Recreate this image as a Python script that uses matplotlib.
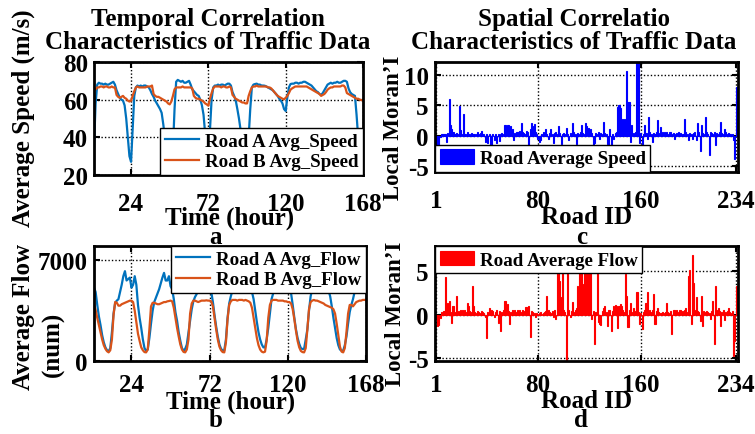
import matplotlib.pyplot as plt
import numpy as np

plt.rcParams['font.family'] = ['Liberation Serif', 'DejaVu Serif']
plt.rcParams['font.weight'] = 'bold'
plt.rcParams['axes.unicode_minus'] = False

# ---- data: hourly values over one week (7 rows of 24 hours) ----
hours = np.arange(1, 169)

speed_a = [
    35, 58, 68, 69, 68.5, 68.5, 68, 68.5, 68, 68, 68.5, 69, 69.5, 68, 65, 63, 61, 60, 59.5, 57, 50, 40, 30, 27,
    45, 62, 66.5, 67.5, 67, 67.5, 67, 67.5, 67.5, 67, 66.5, 65, 63, 61.5, 59.5, 58, 56.5, 55, 53, 47, 40, 34, 31, 30,
    30, 34, 55, 69.5, 70.5, 70, 69.5, 70, 69, 69, 69.5, 70, 68, 65.5, 64.5, 63.5, 62.5, 62, 60, 57, 52, 42, 36, 34,
    44, 60, 66.5, 67.5, 67.5, 68, 67.5, 68, 68, 67.5, 68, 68.5, 68.5, 67.5, 64, 62, 59.5, 55, 50, 44, 38, 34, 32, 33,
    40, 55, 66.5, 68, 68.3, 68.5, 68, 68, 67.5, 67.5, 67.4, 67, 66.5, 66, 65.5, 65, 64, 63, 62, 60.5, 59.5, 58, 55, 54,
    61, 66.5, 68.3, 68.5, 68.5, 69, 69, 68.5, 69, 69, 69.5, 69.5, 69, 68.5, 68, 67.5, 66.5, 65.5, 64.5, 64, 63, 62.5, 63.5, 65,
    66.5, 68, 68.5, 69, 68.5, 69, 69, 69.5, 69, 69, 69.5, 70, 70, 69.5, 66, 64, 63, 62.5, 62, 52, 40, 34, 31, 30,
]
speed_b = [
    65, 65.5, 66.5, 66.5, 67, 67, 66.5, 67, 67, 66.5, 66.5, 67, 66.5, 66.5, 62.5, 61.5, 61, 61.5, 62, 61, 60.5, 59.5, 59, 59.5,
    62, 64.5, 66.5, 67, 66.5, 66.5, 66.5, 66.5, 66.5, 67, 67, 67, 67.5, 63, 62, 61.5, 61.5, 61, 60.5, 60, 59.5, 59, 58, 57.5,
    59, 62, 65.5, 66.5, 66.5, 66.5, 66.5, 67, 66.5, 66.5, 66.5, 66.5, 66.5, 66, 62, 61, 60.5, 60.5, 60, 59.5, 59, 58, 57.5, 56.8,
    60.5, 63.5, 66, 67, 67, 67, 67, 66.5, 67, 67, 66.5, 66.5, 67, 66.5, 62.5, 61.5, 60.5, 60, 59.5, 59, 58.5, 58.5, 58, 58,
    62, 64.5, 66.5, 67, 67, 67.5, 67, 67, 67, 67, 67, 67, 66.5, 66.5, 66, 65, 64, 63, 62, 61.5, 61, 60.5, 60.2, 61,
    62, 63.5, 65.3, 66, 66.5, 67, 67, 67, 67, 67, 67, 67, 67, 66.5, 66, 65.5, 65, 64.5, 64, 63.5, 63, 62, 62.5, 63,
    64, 65.3, 66, 66.5, 66.5, 67, 67, 67, 67, 67, 67.5, 67.5, 66.5, 63.5, 63, 62.5, 62, 61.5, 61, 60.5, 60.5, 60, 59.8, 59.5,
]
flow_a = [
    5100, 4800, 3900, 3100, 2500, 1800, 1300, 950, 750, 680, 900, 2000, 3300, 4050, 4200, 4300, 4800, 5300, 5900, 6250, 5600, 5700, 5800, 5100,
    5300, 5900, 5300, 3900, 3000, 2300, 1500, 900, 710, 800, 1600, 2600, 3500, 4100, 4400, 4700, 5000, 5400, 5800, 6130, 5600, 5600, 5900, 5200,
    5000, 4300, 3400, 2800, 2000, 1400, 900, 710, 850, 1150, 2000, 2800, 3600, 4150, 4450, 4650, 5000, 5400, 5800, 6000, 5600, 5500, 5700, 5200,
    4800, 4100, 3200, 2400, 1700, 1150, 850, 720, 750, 1500, 3000, 4000, 4500, 4900, 5300, 5700, 6000, 5700, 5600, 5800, 6000, 5600, 5300, 5200,
    5000, 4800, 4300, 3500, 2700, 2000, 1500, 1150, 950, 940, 1500, 2300, 3300, 4300, 4700, 5100, 5500, 5900, 6100, 5800, 5700, 5900, 5700, 5300,
    5000, 4700, 3900, 3000, 2200, 1600, 1200, 900, 830, 850, 1500, 2200, 3500, 4500, 5000, 5300, 5600, 5900, 6000, 5700, 5600, 5500, 5300, 5100,
    4900, 4500, 3800, 3000, 2300, 1600, 1100, 800, 720, 720, 1100, 1700, 2600, 3400, 3900, 4300, 4800, 5300, 5600, 5800, 6000, 5700, 5500, 5400,
]
flow_b = [
    3950, 3550, 3000, 2500, 2000, 1500, 1100, 850, 680, 600, 750, 1500, 3200, 4100, 4050, 3850, 3850, 3950, 4000, 4050, 4100, 4150, 4200, 4200,
    4100, 3500, 2700, 1900, 1400, 950, 750, 620, 600, 800, 2200, 3800, 4050, 4050, 4000, 3950, 3950, 4000, 4050, 4100, 4100, 4150, 4170, 4200,
    4150, 3700, 3000, 2300, 1700, 1150, 800, 630, 600, 800, 1500, 3300, 4000, 4200, 4200, 4150, 4100, 4150, 4200, 4200, 4200, 4220, 4200, 4200,
    4150, 3800, 3000, 2200, 1500, 1000, 750, 620, 600, 1300, 2900, 3900, 4150, 4250, 4250, 4250, 4200, 4250, 4250, 4250, 4200, 4250, 4200, 4150,
    4050, 3700, 3000, 2300, 1600, 1100, 800, 650, 600, 650, 1400, 3000, 3900, 4200, 4250, 4250, 4250, 4200, 4200, 4200, 4200, 4150, 4150, 4100,
    4100, 4000, 3600, 2900, 2100, 1400, 950, 700, 620, 600, 900, 2200, 3600, 4100, 4200, 4250, 4200, 4200, 4150, 4100, 4050, 4000, 3900, 3850,
    3800, 3750, 3700, 3600, 3300, 2600, 1800, 1000, 650, 600, 900, 2000, 3300, 3900, 3900, 3800, 3950, 4100, 4150, 4200, 4200, 4250, 4250, 4250,
]

# ---- local Moran's I per road (234 roads, rows of 10) ----
road_ids = np.arange(1, 235)

moran_speed = [
    -1.5, -1.8, -1.6, -0.3, 0.2, 0.3, 0.2, 0.3, -1.0, 0.4,
    6.0, 1.7, 1.0, 0.5, 0.3, 0.2, 0.4, 0.3, 4.9, 0.9,
    0.3, 3.6, 0.2, 0.3, 0.5, 0.3, 0.2, 0.4, 0.3, 0.2,
    0.3, 0.2, 0.5, 0.3, 0.4, 0.8, 0.2, 0.3, -1.0, 0.3,
    -1.2, 0.2, -1.5, -1.6, 0.3, -0.8, 0.2, -1.2, 0.3, -0.9,
    0.3, 0.4, 0.3, 1.8, 1.8, 1.7, 1.8, 1.2, 1.5, 1.0,
    -0.8, 0.4, 0.5, 0.6, 0.5, 0.7, 2.1, 0.5, 0.4, 0.3,
    0.8, 0.5, -1.7, 1.0, 2.0, 1.6, 1.9, 0.5, 0.3, -0.5,
    -1.0, -0.8, 0.3, 0.5, 0.4, 1.0, 0.3, -0.5, 0.4, 1.1,
    0.3, -1.2, 0.4, 0.5, 0.3, 1.6, 0.4, -1.4, 0.3, 0.4,
    0.2, 1.2, 0.3, -0.7, 0.4, 0.3, 2.1, 0.5, 0.3, -1.4,
    0.4, 0.3, 0.5, 1.8, 0.4, 0.3, 2.1, 1.6, 1.2, 0.5,
    1.0, 0.4, -1.7, -1.3, 0.4, 0.3, 0.5, -0.6, 0.4, 0.3,
    2.2, 0.4, 0.3, -1.4, -1.8, 1.0, -1.5, 0.2, -0.5, 0.4,
    0.5, 4.7, 5.0, 4.5, 0.6, 2.8, 2.8, 1.0, 10.7, 5.5,
    5.5, -1.0, 1.7, 0.4, 0.3, 0.5, 14.0, 13.0, -1.2, 0.4,
    -1.5, 0.3, 1.7, 0.4, -0.6, 3.1, 0.5, 0.3, -1.1, 0.4,
    0.3, 0.5, 2.5, 0.4, 1.4, 0.3, 0.5, 0.6, 0.4, 0.5,
    0.3, 0.6, 0.5, 0.3, 0.4, -0.6, 0.3, 0.4, 0.5, 0.3,
    0.4, 0.3, 0.2, 2.7, 0.5, 0.3, -0.8, 0.4, 0.3, -0.5,
    0.4, 0.6, -0.8, 2.0, 0.5, -2.5, 1.7, 0.4, 0.3, 3.1,
    0.5, 0.3, -3.2, 0.6, 0.4, 0.3, 0.5, -1.6, 0.4, 0.3,
    0.5, 2.2, 0.4, 0.3, 1.1, 0.5, 0.3, 0.4, 0.3, 0.2,
    0.3, -0.8, -3.8, 8.0,
]
moran_flow = [
    -0.5, -1.3, -1.2, -0.4, 0.3, 0.2, 0.4, 4.3, 0.5, 1.4,
    1.6, 0.3, -0.9, 1.0, 0.3, 0.2, 2.2, 0.4, 0.3, 0.5,
    0.5, 0.4, 0.6, 0.3, 1.4, 1.0, 0.4, 0.3, 3.3, 1.0,
    0.3, 0.2, 0.4, 0.3, 0.2, 0.4, 0.3, 0.2, -0.3, -2.7,
    0.3, 0.8, 0.3, 0.6, 0.4, -0.3, 0.3, 0.5, -0.9, 0.4,
    -1.9, 0.3, 0.5, 1.6, 1.6, 1.2, 0.4, -1.1, 0.3, 0.5,
    0.4, 0.6, 0.3, 0.5, 0.4, 0.6, 0.3, 0.5, 0.4, 0.9,
    0.9, 0.5, 1.0, -2.6, 0.4, 0.3, 0.2, -0.3, 0.2, 0.1,
    0.2, 0.3, 0.1, 0.2, 0.3, 0.4, 2.2, 0.5, 0.3, 0.2,
    0.4, -0.3, 0.5, -0.5, 5.1, 5.1, 3.9, 2.0, 5.1, 0.6,
    0.3, -5.2, 5.1, 0.5, -0.3, 0.4, 1.5, 0.3, 0.5, 0.8,
    3.3, 5.1, 5.1, 5.1, 3.5, 5.1, 5.1, 5.1, 5.1, 5.1,
    5.1, -0.5, 0.4, -3.4, 0.3, 5.1, -0.8, -1.0, -1.2, 0.4,
    0.8, 1.0, 0.3, -1.3, 0.6, 0.5, -1.8, 0.4, 1.0, 1.1,
    1.0, -1.5, 1.0, 1.2, 1.0, 0.5, 0.3, 4.7, 2.2, -1.4,
    0.5, 1.4, 0.3, 0.8, 0.4, 0.3, 2.6, 0.3, -1.1, 0.2,
    -1.6, 0.3, 0.5, 1.4, 2.6, 0.4, 0.6, 0.3, 0.5, 2.4,
    -1.1, 0.4, 0.8, 0.3, 0.2, 0.2, 0.3, 0.2, 0.3, 1.4,
    0.3, 0.2, 0.4, -2.2, 0.5, 0.6, 0.4, 0.5, 0.3, 0.5,
    0.6, 0.4, 0.3, 0.5, 0.8, 0.3, 4.5, 5.1, -1.1, 6.9,
    3.7, 0.5, 2.0, 0.4, 0.3, -0.7, 2.2, -1.3, 0.4, 0.3,
    0.4, 0.3, 0.2, -0.5, 0.4, 1.6, -3.4, 3.3, 0.5, 0.8,
    0.4, -1.3, 0.3, 0.5, -0.6, 0.3, 0.4, 0.8, 0.3, 0.2,
    0.4, -4.7, -3.0, 3.3,
]

W, H = 755, 435
fig = plt.figure(figsize=(W / 100, H / 100), dpi=100)


def box(l, t, r, b):
    # pixel box -> figure fraction
    return [l / W, 1 - b / H, (r - l) / W, (b - t) / H]


def px(x, y):
    return x / W, 1 - y / H


def style(ax, xpad):
    for s in ax.spines.values():
        s.set_linewidth(2)
    ax.tick_params(direction='in', length=4, width=1.5, top=True, right=True,
                   labelsize=18)
    ax.tick_params(axis='x', pad=xpad)
    ax.tick_params(axis='y', pad=4.5)
    ax.grid(True, color='black', linestyle=(0, (1, 1.5)), linewidth=1)
    ax.set_axisbelow(True)


leg_kw = dict(fontsize=13.7, fancybox=False, framealpha=1, edgecolor='black',
              handlelength=1.8, handletextpad=0.3, borderpad=0.25,
              labelspacing=0.15, borderaxespad=0)

blue_line = '#0072BD'
orange_line = '#D95319'

# a: speed over time
ax1 = fig.add_axes(box(94, 63, 363, 176))
ax1.plot(hours, speed_a, color=blue_line, lw=1.6, label='Road A Avg_Speed')
ax1.plot(hours, speed_b, color=orange_line, lw=1.6, label='Road B Avg_Speed')
ax1.set_xlim(1, 168)
ax1.set_ylim(20, 80)
ax1.set_xticks([24, 72, 120, 168])
ax1.set_yticks([20, 40, 60, 80])
style(ax1, 12.5)
ax1.legend(loc='lower right', bbox_to_anchor=(1, 0), **leg_kw)

# b: flow over time
ax3 = fig.add_axes(box(94, 247, 366, 362))
ax3.plot(hours, flow_a, color=blue_line, lw=1.6, label='Road A Avg_Flow')
ax3.plot(hours, flow_b, color=orange_line, lw=1.6, label='Road B Avg_Flow')
ax3.set_xlim(1, 168)
ax3.set_ylim(0, 8000)
ax3.set_xticks([24, 72, 120, 168])
ax3.set_yticks([0, 7000])
style(ax3, 8.5)
ax3.legend(loc='upper right', bbox_to_anchor=(1, 1), **leg_kw)

# c: Moran's I of speed
ax2 = fig.add_axes(box(435, 63, 738, 173))
ax2.bar(road_ids, moran_speed, width=0.8, color='blue', edgecolor='blue',
        linewidth=0.8, label='Road Average Speed')
ax2.set_xlim(0, 235.5)
ax2.set_ylim(-6, 12.1)
ax2.set_xticks([1, 80, 160, 234])
ax2.set_yticks([-5, 0, 5, 10])
style(ax2, 12.5)
ax2.legend(loc='lower left', bbox_to_anchor=(0, 0), handleheight=0.8, **leg_kw)

# d: Moran's I of flow
ax4 = fig.add_axes(box(435, 247, 738, 362))
ax4.bar(road_ids, moran_flow, width=0.8, color='red', edgecolor='red',
        linewidth=0.8, label='Road Average Flow')
ax4.set_xlim(0, 235.5)
ax4.set_ylim(-5.3, 7.9)
ax4.set_xticks([1, 80, 160, 234])
ax4.set_yticks([-5, 0, 5])
style(ax4, 8.5)
ax4.legend(loc='upper left', bbox_to_anchor=(0, 1), handleheight=0.8, **leg_kw)

# titles, axis labels and panel letters
fs = 18
fig.text(*px(207.5, 31), 'Temporal Correlation\nCharacteristics of Traffic Data',
         ha='center', va='center', fontsize=fs, linespacing=1.0)
fig.text(*px(574, 31), 'Spatial Correlatio\nCharacteristics of Traffic Data',
         ha='center', va='center', fontsize=fs, linespacing=1.0)

fig.text(*px(23, 118), 'Average Speed (m/s)', rotation=90, ha='center', va='center', fontsize=fs)
fig.text(*px(24, 317), 'Average Flow', rotation=90, ha='center', va='center', fontsize=fs)
fig.text(*px(53, 344), '(num)', rotation=90, ha='center', va='center', fontsize=fs)
fig.text(*px(394, 128), 'Local Moran\u2019I', rotation=90, ha='center', va='center', fontsize=16.5)
fig.text(*px(396, 314), 'Local Moran\u2019I', rotation=90, ha='center', va='center', fontsize=16.5)

fig.text(*px(230, 218), 'Time (hour)', ha='center', va='center', fontsize=fs)
fig.text(*px(231, 402), 'Time (hour)', ha='center', va='center', fontsize=fs)
fig.text(*px(587, 218), 'Road ID', ha='center', va='center', fontsize=fs)
fig.text(*px(587, 402), 'Road ID', ha='center', va='center', fontsize=fs)

fig.text(*px(216, 238), 'a', ha='center', va='center', fontsize=fs)
fig.text(*px(216, 421), 'b', ha='center', va='center', fontsize=fs)
fig.text(*px(582, 238), 'c', ha='center', va='center', fontsize=fs)
fig.text(*px(581, 421), 'd', ha='center', va='center', fontsize=fs)

fig.savefig('out.png', dpi=100)
